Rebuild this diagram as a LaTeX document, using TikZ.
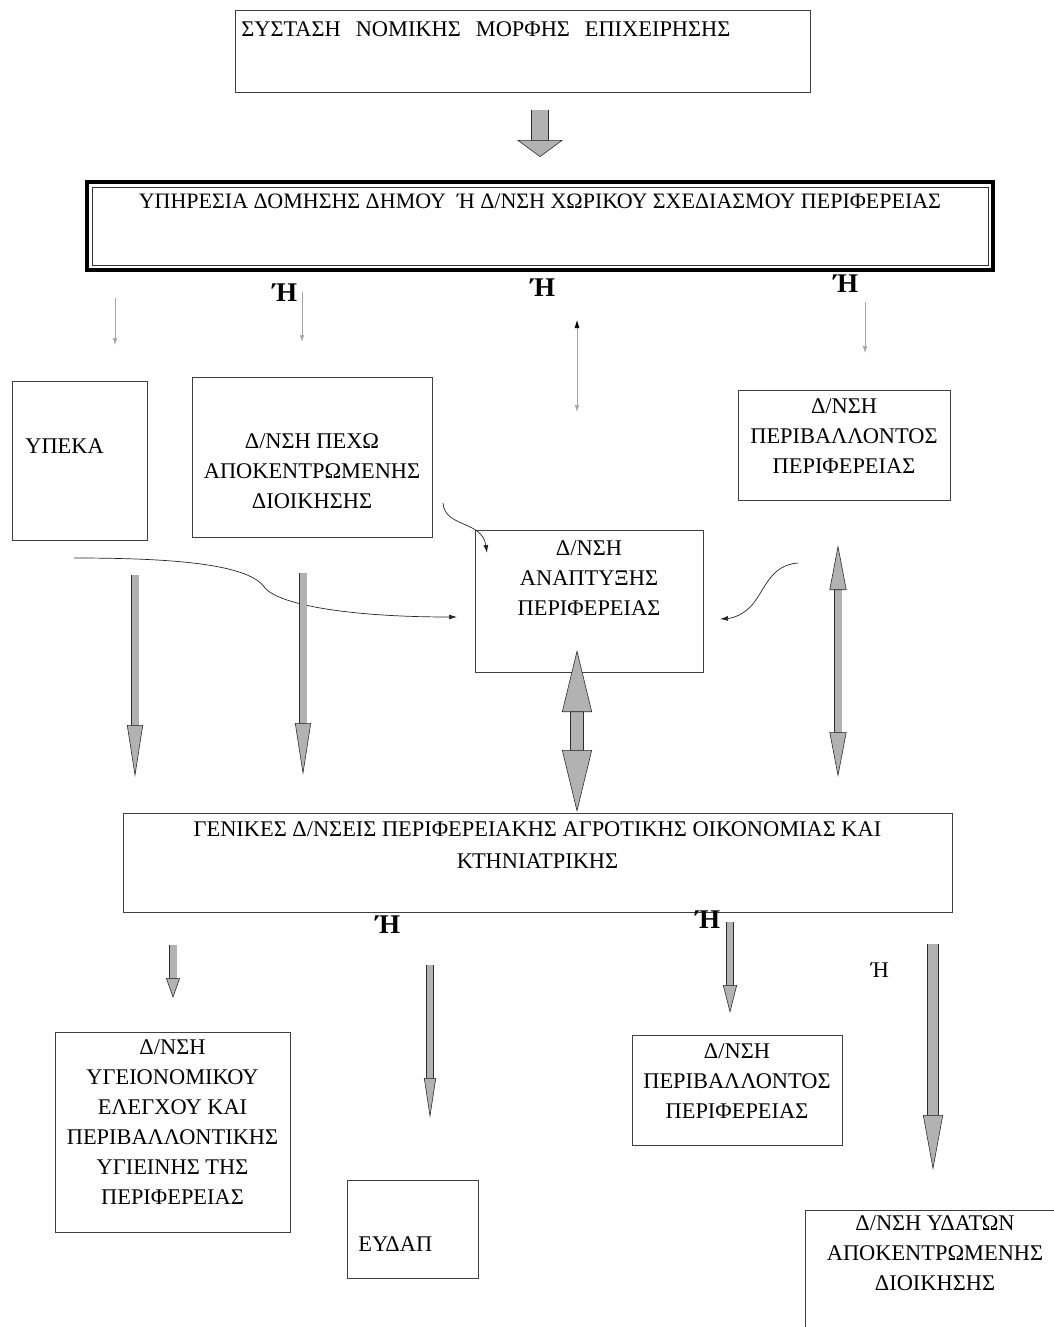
\documentclass[tikz,border=0pt]{standalone}
\usepackage{fontspec}
\setmainfont{Liberation Serif}
\usetikzlibrary{arrows.meta,positioning,calc}

\begin{document}
\begin{tikzpicture}[x=1pt, y=-1pt,
  box/.style={draw=black!75, line width=0.7pt, align=center, inner xsep=4pt, inner ysep=0pt, anchor=base, font=\fontsize{22.4pt}{30pt}\selectfont},
  leftbox/.style={box, align=left, anchor=base west},
  orlabel/.style={font=\fontsize{27pt}{27pt}\selectfont\bfseries, inner sep=0pt},
  thinarrow/.style={draw=gray!70, line width=0.6pt, -{Latex[length=7pt,width=4.5pt]}},
  curvearrow/.style={draw=black!85, line width=0.7pt, -{Latex[length=8pt,width=5pt]}},
  fatarrow/.style n args={3}{draw=gray!60, line width=#3, -{Triangle[length=#1, width=#2, fill=gray!60, color=gray!35!black, line width=0.6pt]}, preaction={draw=gray!35!black, line width=#3+1.2pt, arrows=-, shorten >=#1-1pt}},
  fatboth/.style n args={3}{draw=gray!60, line width=#3, {Triangle[length=#1, width=#2, fill=gray!60, color=gray!35!black, line width=0.6pt]}-{Triangle[length=#1, width=#2, fill=gray!60, color=gray!35!black, line width=0.6pt]}, preaction={draw=gray!35!black, line width=#3+1.2pt, arrows=-, shorten >=#1-1pt, shorten <=#1-1pt}}
]
\useasboundingbox (0,0) rectangle (1054,1327);
\clip (0,0) rectangle (1054,1327);

% Legal form of the business
\node[leftbox, text width=563pt, inner xsep=6pt, text height=27pt, text depth=55pt] (form) at (235,37) {ΣΥΣΤΑΣΗ\ \ ΝΟΜΙΚΗΣ\ \ ΜΟΡΦΗΣ\ \ ΕΠΙΧΕΙΡΗΣΗΣ};
\coordinate (b0s) at (540,110);
\coordinate (b0e) at (540,157);
\draw[fatarrow={17pt}{46pt}{16pt}] (b0s) -- (b0e);

% Building service (double frame)
\node[box, minimum width=906pt, text height=26pt, text depth=62pt, line width=4pt, draw=black, font=\fontsize{22pt}{30pt}\selectfont] (dom) at (540,208) {ΥΠΗΡΕΣΙΑ ΔΟΜΗΣΗΣ ΔΗΜΟΥ\ \ Ή Δ/ΝΣΗ ΧΩΡΙΚΟΥ ΣΧΕΔΙΑΣΜΟΥ ΠΕΡΙΦΕΡΕΙΑΣ};
\draw[black!80, line width=1pt] ([xshift=7pt,yshift=-7pt]dom.north west) rectangle ([xshift=-7pt,yshift=7pt]dom.south east);

% Or labels
\node[orlabel] (or1) at (285,293) {Ή};
\node[orlabel] (or2) at (543,288) {Ή};
\node[orlabel] (or3) at (846,284) {Ή};

% Thin arrows under the building service
\coordinate (t1s) at (115,298);
\coordinate (t1e) at (115,345);
\coordinate (t2s) at (302,292);
\coordinate (t2e) at (302,342);
\coordinate (t3s) at (865,302);
\coordinate (t3e) at (865,353);
\coordinate (t4s) at (577,320);
\coordinate (t4e) at (577,412);
\draw[thinarrow] (t1s) -- (t1e);
\draw[thinarrow] (t2s) -- (t2e);
\draw[thinarrow] (t3s) -- (t3e);
\draw[thinarrow, {Latex[length=8pt,width=5pt,color=black]}-{Latex[length=7pt,width=4.5pt]}] (t4s) -- (t4e);

% Middle row of services
\node[leftbox, text width=109pt, inner xsep=13pt, text height=72pt, text depth=87pt] (ypeka) at (12,453) {ΥΠΕΚΑ};
\node[box, minimum width=240pt, text height=131pt, text depth=29pt] (pexo) at (312,508) {Δ/ΝΣΗ ΠΕΧΩ\\ΑΠΟΚΕΝΤΡΩΜΕΝΗΣ\\ΔΙΟΙΚΗΣΗΣ};
\node[box, minimum width=212pt, text height=83pt, text depth=27pt] (perif1) at (844,473) {Δ/ΝΣΗ\\ΠΕΡΙΒΑΛΛΟΝΤΟΣ\\ΠΕΡΙΦΕΡΕΙΑΣ};
\node[box, minimum width=228pt, text height=85pt, text depth=57pt] (anapt) at (589,615) {Δ/ΝΣΗ\\ΑΝΑΠΤΥΞΗΣ\\ΠΕΡΙΦΕΡΕΙΑΣ};

% Curved arrows into the development directorate
\coordinate (c1s) at (74,558);
\coordinate (c1e) at (457,617);
\coordinate (c2s) at (443,503);
\coordinate (c2e) at (487,553);
\coordinate (c3s) at (798,563);
\coordinate (c3e) at (720,619);
\draw[curvearrow] (c1s) .. controls (180,558) and (250,565) .. (265,588) .. controls (280,605) and (350,617) .. (c1e);
\draw[curvearrow] (c2s) .. controls (445,528) and (482,520) .. (c2e);
\draw[curvearrow] (c3s) .. controls (770,565) and (765,590) .. (752,605) .. controls (745,613) and (735,618) .. (c3e);

% Thick arrows down to the general directorates
\coordinate (f1s) at (135,575);
\coordinate (f1e) at (135,777);
\coordinate (f2s) at (303,573);
\coordinate (f2e) at (303,775);
\coordinate (fbs) at (838,545);
\coordinate (fbe) at (838,777);
\coordinate (fcs) at (577,650);
\coordinate (fce) at (577,812);
\draw[fatarrow={52pt}{16pt}{7pt}] (f1s) -- (f1e);
\draw[fatarrow={52pt}{16pt}{7pt}] (f2s) -- (f2e);
\draw[fatboth={45pt}{17pt}{7pt}] (fbs) -- (fbe);
\draw[fatboth={62pt}{30pt}{12pt}] (fcs) -- (fce);

% General directorates
\node[box, minimum width=829pt, text height=55pt, text depth=44pt] (genikes) at (537.5,868) {ΓΕΝΙΚΕΣ Δ/ΝΣΕΙΣ ΠΕΡΙΦΕΡΕΙΑΚΗΣ ΑΓΡΟΤΙΚΗΣ ΟΙΚΟΝΟΜΙΑΣ ΚΑΙ\\[2pt]ΚΤΗΝΙΑΤΡΙΚΗΣ};
\node[orlabel] (or4) at (388,925) {Ή};
\node[orlabel] (or5) at (708,920) {Ή};
\node[font=\fontsize{22.4pt}{24pt}\selectfont, inner sep=0pt] (or6) at (880,970) {Ή};

\coordinate (g1s) at (173,945);
\coordinate (g1e) at (173,998);
\coordinate (g2s) at (430,965);
\coordinate (g2e) at (430,1118);
\coordinate (g3s) at (730,922);
\coordinate (g3e) at (730,1013);
\coordinate (g4s) at (933,944);
\coordinate (g4e) at (933,1170);
\draw[fatarrow={20pt}{14pt}{7pt}] (g1s) -- (g1e);
\draw[fatarrow={40pt}{12pt}{6pt}] (g2s) -- (g2e);
\draw[fatarrow={28pt}{14pt}{6pt}] (g3s) -- (g3e);
\draw[fatarrow={55pt}{20pt}{10pt}] (g4s) -- (g4e);

% Bottom row of services
\node[box, minimum width=235pt, text height=172pt, text depth=28pt] (ygeion) at (172.5,1204) {Δ/ΝΣΗ\\ΥΓΕΙΟΝΟΜΙΚΟΥ\\ΕΛΕΓΧΟΥ ΚΑΙ\\ΠΕΡΙΒΑΛΛΟΝΤΙΚΗΣ\\ΥΓΙΕΙΝΗΣ ΤΗΣ\\ΠΕΡΙΦΕΡΕΙΑΣ};
\node[leftbox, text width=109pt, inner xsep=11pt, text height=71pt, text depth=27pt] (eydap) at (347,1251) {ΕΥΔΑΠ};
\node[box, minimum width=210pt, text height=83pt, text depth=27pt] (perif2) at (737,1118) {Δ/ΝΣΗ\\ΠΕΡΙΒΑΛΛΟΝΤΟΣ\\ΠΕΡΙΦΕΡΕΙΑΣ};
\node[box, minimum width=260pt, text height=80pt, text depth=55pt] (ydaton) at (935,1290) {Δ/ΝΣΗ ΥΔΑΤΩΝ\\ΑΠΟΚΕΝΤΡΩΜΕΝΗΣ\\ΔΙΟΙΚΗΣΗΣ};

\end{tikzpicture}
\end{document}
